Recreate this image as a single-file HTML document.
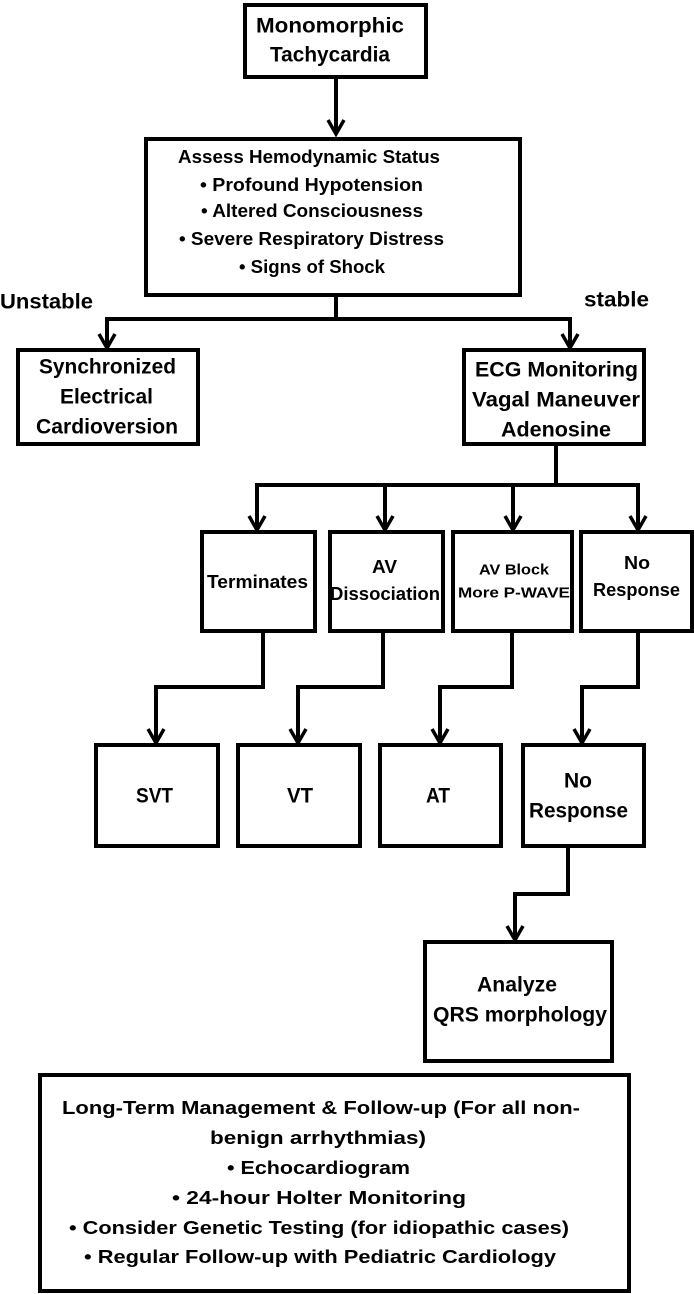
<!DOCTYPE html>
<html><head><meta charset="utf-8"><style>
html,body{margin:0;padding:0;background:#fff;}
svg{display:block;}
text{font-family:"Liberation Sans",sans-serif;font-weight:bold;fill:#000;dominant-baseline:central;}
</style></head><body>
<svg width="694" height="1294" viewBox="0 0 694 1294" xmlns="http://www.w3.org/2000/svg">
<g fill="none" stroke="#000" stroke-width="4">
<rect x="245" y="5" width="181" height="72"/>
<rect x="146" y="139" width="374" height="156"/>
<rect x="18" y="350" width="180" height="94"/>
<rect x="464" y="350" width="180" height="94"/>
<rect x="202" y="532" width="113" height="99"/>
<rect x="330" y="532" width="113" height="99"/>
<rect x="453" y="532" width="119" height="99"/>
<rect x="581" y="532" width="111" height="99"/>
<rect x="96" y="745" width="122" height="101"/>
<rect x="238" y="745" width="122" height="101"/>
<rect x="380" y="745" width="121" height="101"/>
<rect x="523" y="745" width="121" height="101"/>
<rect x="425" y="942" width="187" height="119"/>
<rect x="40" y="1075" width="589" height="216"/>
<!-- connectors -->
<path d="M336 77 V134"/>
<path d="M336 295 V319 M107 319 H570 M107 317 V348 M570 317 V348"/>
<path d="M556 444 V485 M257 485 H638 M257 483 V530 M385 485 V530 M513 485 V530 M638 483 V530"/>
<path d="M263 631 V687 H156 V743"/>
<path d="M383 631 V687 H298 V743"/>
<path d="M512 631 V687 H440 V743"/>
<path d="M638 631 V687 H582 V743"/>
<path d="M568 846 V894 H515 V940"/>
<!-- arrowheads -->
<g stroke-width="3.5">
<path d="M328 120 L336 134 L344 120"/>
<path d="M99 334 L107 348 L115 334 M562 334 L570 348 L578 334"/>
<path d="M249 516 L257 530 L265 516 M377 516 L385 530 L393 516 M505 516 L513 530 L521 516 M630 516 L638 530 L646 516"/>
<path d="M148 729 L156 743 L164 729 M290 729 L298 743 L306 729 M432 729 L440 743 L448 729 M574 729 L582 743 L590 729"/>
<path d="M507 926 L515 940 L523 926"/>
</g>
</g>
<g font-size="21">
<text x="256" y="26" textLength="148" lengthAdjust="spacingAndGlyphs">Monomorphic</text>
<text x="270" y="55" textLength="120" lengthAdjust="spacingAndGlyphs">Tachycardia</text>
<text x="39" y="367" textLength="137" lengthAdjust="spacingAndGlyphs">Synchronized</text>
<text x="60" y="397" textLength="93" lengthAdjust="spacingAndGlyphs">Electrical</text>
<text x="36" y="427" textLength="142" lengthAdjust="spacingAndGlyphs">Cardioversion</text>
<text x="475" y="370" textLength="163" lengthAdjust="spacingAndGlyphs">ECG Monitoring</text>
<text x="472" y="400" textLength="168" lengthAdjust="spacingAndGlyphs">Vagal Maneuver</text>
<text x="501" y="430" textLength="110" lengthAdjust="spacingAndGlyphs">Adenosine</text>
<text x="0" y="302" textLength="93" lengthAdjust="spacingAndGlyphs">Unstable</text>
<text x="584" y="300" textLength="65" lengthAdjust="spacingAndGlyphs">stable</text>
<text x="136" y="796" textLength="37" lengthAdjust="spacingAndGlyphs">SVT</text>
<text x="287" y="796" textLength="26" lengthAdjust="spacingAndGlyphs">VT</text>
<text x="426" y="796" textLength="24" lengthAdjust="spacingAndGlyphs">AT</text>
<text x="564" y="781" textLength="28" lengthAdjust="spacingAndGlyphs">No</text>
<text x="529" y="811" textLength="99" lengthAdjust="spacingAndGlyphs">Response</text>
<text x="477" y="985" textLength="80" lengthAdjust="spacingAndGlyphs">Analyze</text>
<text x="433" y="1015" textLength="174" lengthAdjust="spacingAndGlyphs">QRS morphology</text>
</g>
<g font-size="18">
<text x="178" y="157" textLength="262" lengthAdjust="spacingAndGlyphs">Assess Hemodynamic Status</text>
<text x="200" y="185" textLength="223" lengthAdjust="spacingAndGlyphs">• Profound Hypotension</text>
<text x="201" y="211" textLength="222" lengthAdjust="spacingAndGlyphs">• Altered Consciousness</text>
<text x="179" y="239" textLength="265" lengthAdjust="spacingAndGlyphs">• Severe Respiratory Distress</text>
<text x="239" y="267" textLength="146" lengthAdjust="spacingAndGlyphs">• Signs of Shock</text>
<text x="207" y="582" textLength="101" lengthAdjust="spacingAndGlyphs">Terminates</text>
<text x="372" y="567" textLength="25" lengthAdjust="spacingAndGlyphs">AV</text>
<text x="330" y="594" textLength="110" lengthAdjust="spacingAndGlyphs">Dissociation</text>
<text x="624" y="563" textLength="26" lengthAdjust="spacingAndGlyphs">No</text>
<text x="593" y="590" textLength="87" lengthAdjust="spacingAndGlyphs">Response</text>
<text x="62" y="1108" textLength="518" lengthAdjust="spacingAndGlyphs">Long-Term Management &amp; Follow-up (For all non-</text>
<text x="210" y="1138" textLength="216" lengthAdjust="spacingAndGlyphs">benign  arrhythmias)</text>
<text x="227" y="1168" textLength="183" lengthAdjust="spacingAndGlyphs">• Echocardiogram</text>
<text x="172" y="1198" textLength="294" lengthAdjust="spacingAndGlyphs">• 24-hour Holter Monitoring</text>
<text x="69" y="1228" textLength="500" lengthAdjust="spacingAndGlyphs">• Consider Genetic Testing  (for idiopathic cases)</text>
<text x="84" y="1257" textLength="472" lengthAdjust="spacingAndGlyphs">• Regular Follow-up with Pediatric Cardiology</text>
</g>
<g font-size="15">
<text x="479" y="570" textLength="70" lengthAdjust="spacingAndGlyphs">AV Block</text>
<text x="458" y="593" textLength="112" lengthAdjust="spacingAndGlyphs">More P-WAVE</text>
</g>
</svg>
</body></html>
